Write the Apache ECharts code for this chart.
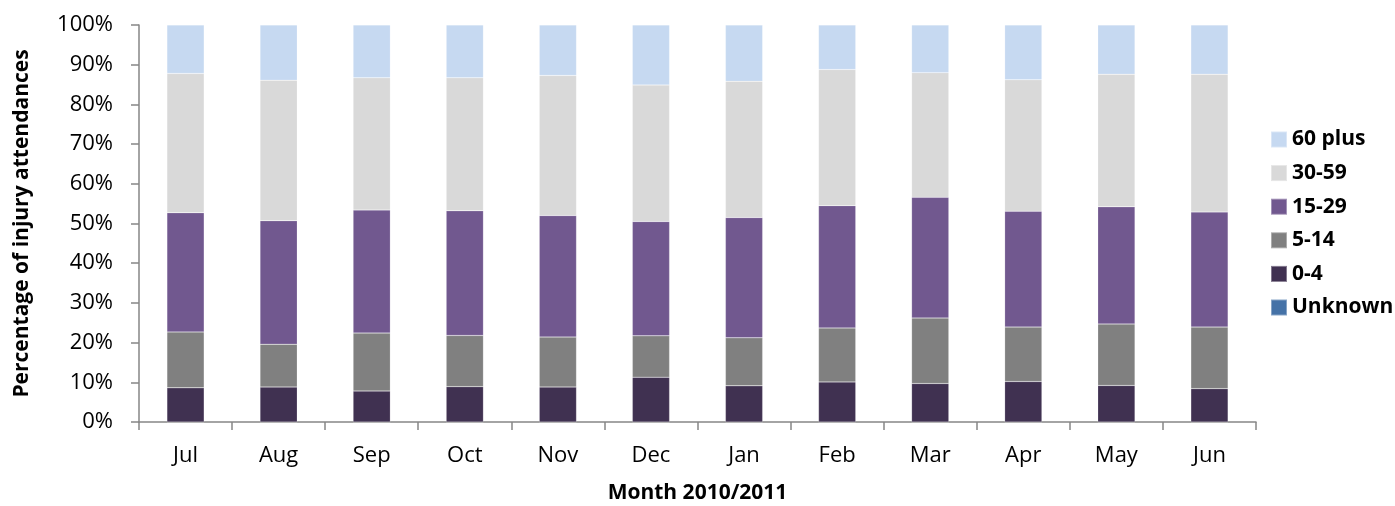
<!DOCTYPE html>
<html>
<head>
<meta charset="utf-8">
<script src="https://cdn.jsdelivr.net/npm/echarts@6/dist/echarts.min.js"></script>
<style>
  html, body { margin: 0; padding: 0; background: #fff; }
  #chart { width: 1395px; height: 506px; }
</style>
</head>
<body>
<div id="chart"></div>
<script>
  const months = ['Jul', 'Aug', 'Sep', 'Oct', 'Nov', 'Dec', 'Jan', 'Feb', 'Mar', 'Apr', 'May', 'Jun'];
  const unknown = [0, 0, 0, 0, 0, 0, 0, 0, 0, 0, 0, 0];
  const age0to4 = [8.6, 8.8, 7.8, 8.9, 8.8, 11.3, 9.1, 10.1, 9.7, 10.2, 9.2, 8.4];
  const age5to14 = [14.1, 10.8, 14.6, 12.9, 12.6, 10.4, 12.1, 13.6, 16.5, 13.7, 15.5, 15.5];
  const age15to29 = [30.0, 31.1, 31.0, 31.4, 30.6, 28.8, 30.3, 30.8, 30.4, 29.2, 29.5, 29.0];
  const age30to59 = [35.1, 35.4, 33.3, 33.5, 35.3, 34.4, 34.3, 34.3, 31.4, 33.1, 33.4, 34.7];
  const age60plus = [12.2, 13.9, 13.3, 13.3, 12.7, 15.1, 14.2, 11.2, 12.0, 13.8, 12.4, 12.4];

  const font = '"Open Sans", Lato, sans-serif';
  const axisGrey = '#868686';

  const chart = echarts.init(document.getElementById('chart'));

  // stacked bottom to top
  const seriesDefs = [
    { name: 'Unknown', data: unknown, color: '#4572A7' },
    { name: '0-4', data: age0to4, color: '#403151' },
    { name: '5-14', data: age5to14, color: '#808080' },
    { name: '15-29', data: age15to29, color: '#71588F' },
    { name: '30-59', data: age30to59, color: '#D9D9D9' },
    { name: '60 plus', data: age60plus, color: '#C6D9F1' }
  ];

  chart.setOption({
    animation: false,
    grid: { left: 139, right: 139, top: 25, bottom: 84, containLabel: false, outerBoundsMode: 'none' },
    legend: {
      orient: 'vertical',
      left: 1265,
      top: 124,
      itemWidth: 16,
      itemHeight: 16,
      itemGap: 12.6,
      icon: 'rect',
      data: seriesDefs.map(s => s.name).reverse(),
      textStyle: { fontFamily: font, fontWeight: 'bold', fontSize: 21, color: '#000' }
    },
    xAxis: {
      type: 'category',
      data: months,
      name: 'Month 2010/2011',
      nameLocation: 'middle',
      nameGap: 61,
      nameTextStyle: { fontFamily: font, fontWeight: 'bold', fontSize: 21, color: '#000' },
      axisLine: { lineStyle: { color: axisGrey, width: 1.5 } },
      axisTick: { show: true, length: 8, lineStyle: { color: axisGrey, width: 1.5 } },
      axisLabel: { fontFamily: font, fontSize: 22, color: '#000', margin: 23 }
    },
    yAxis: {
      type: 'value',
      min: 0,
      max: 100,
      interval: 10,
      name: 'Percentage of injury attendances',
      nameLocation: 'middle',
      nameGap: 106,
      nameTextStyle: { fontFamily: font, fontWeight: 'bold', fontSize: 21, color: '#000' },
      axisLine: { show: true, lineStyle: { color: axisGrey, width: 1.5 } },
      axisTick: { show: true, length: 8, lineStyle: { color: axisGrey, width: 1.5 } },
      splitLine: { show: false },
      axisLabel: { fontFamily: font, fontSize: 22, color: '#000', margin: 26, formatter: '{value}%' }
    },
    series: seriesDefs.map(s => ({
      name: s.name,
      type: 'bar',
      stack: 'total',
      barWidth: '40%',
      data: s.data,
      itemStyle: { color: s.color, borderColor: 'rgba(255,255,255,0.35)', borderWidth: 0.5 }
    }))
  });
</script>
</body>
</html>
